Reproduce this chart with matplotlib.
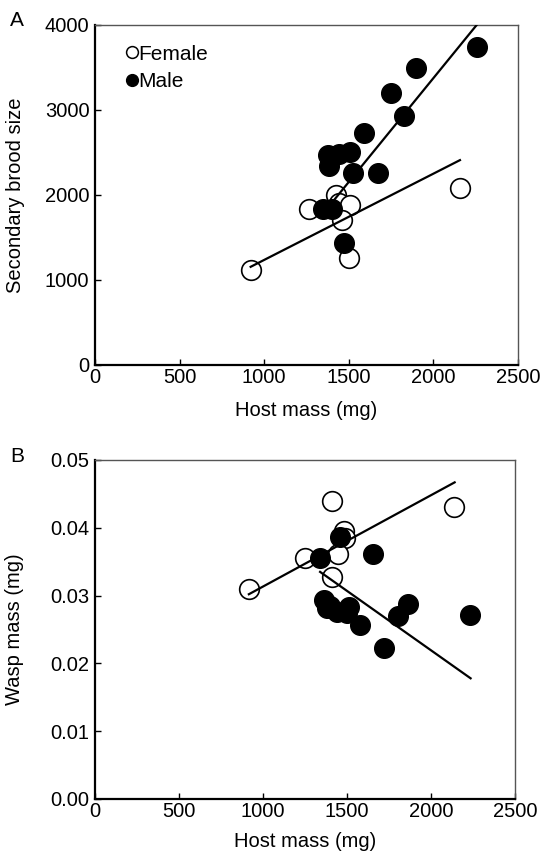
import matplotlib
matplotlib.use("Agg")
import matplotlib.pyplot as plt
from matplotlib.lines import Line2D

plt.rcParams["font.family"] = ["Liberation Sans", "DejaVu Sans"]
plt.rcParams["font.size"] = 14.5

# Panel A: secondary brood size vs host mass
female_host_a = [920, 1265, 1425, 1440, 1510, 1460, 1500, 2155]
female_brood = [1120, 1830, 1995, 1900, 1880, 1710, 1255, 2080]
male_host_a = [2255, 1895, 1750, 1825, 1590, 1380, 1440, 1505, 1385, 1525, 1670, 1350, 1400, 1470]
male_brood = [3735, 3490, 3195, 2930, 2725, 2465, 2485, 2510, 2340, 2260, 2260, 1835, 1835, 1430]
female_fit_a = ([920, 2157], [1155, 2410])
male_fit_a = ([1389, 2260], [1882, 4010])

# Panel B: wasp mass vs host mass
female_host_b = [916, 1251, 1409, 1483, 1490, 1444, 1409, 2140]
female_wasp = [0.0310, 0.0355, 0.0439, 0.0395, 0.0385, 0.0362, 0.0327, 0.0430]
male_host_b = [1340, 1458, 1655, 2232, 1866, 1803, 1720, 1576, 1365, 1379, 1438, 1500, 1510, 1400]
male_wasp = [0.0355, 0.0386, 0.0362, 0.0271, 0.0288, 0.0270, 0.0223, 0.0257,
             0.0293, 0.0281, 0.0276, 0.0274, 0.0283, 0.0285]
female_fit_b = ([916, 2141], [0.0302, 0.0467])
male_fit_b = ([1340, 2236], [0.0335, 0.0178])

x_ticks = [0, 500, 1000, 1500, 2000, 2500]

fig = plt.figure(figsize=(5.44, 8.55), dpi=100)
ax_a = fig.add_axes([0.1746, 0.5731, 0.7776, 0.3977])
ax_b = fig.add_axes([0.1746, 0.0655, 0.7720, 0.3965])


def style_axes(ax):
    for side in ["left", "bottom"]:
        ax.spines[side].set_linewidth(1.6)
        ax.spines[side].set_color("black")
    for side in ["top", "right"]:
        ax.spines[side].set_linewidth(1.0)
        ax.spines[side].set_color("#555555")
    ax.tick_params(direction="in", length=4, width=1)
    ax.tick_params(axis="x", pad=2)
    ax.tick_params(axis="y", pad=4)
    ax.set_xlim(0, 2500)
    ax.set_xticks(x_ticks)
    ax.set_xlabel("Host mass (mg)")


def draw_points(ax, fx, fy, mx, my, ffit, mfit):
    ax.scatter(fx, fy, s=200, facecolor="white", edgecolor="black", linewidth=1.2, zorder=3)
    ax.scatter(mx, my, s=200, facecolor="black", edgecolor="black", linewidth=1.0, zorder=4)
    ax.plot(ffit[0], ffit[1], color="black", lw=1.6, zorder=5)
    ax.plot(mfit[0], mfit[1], color="black", lw=1.6, zorder=5)


draw_points(ax_a, female_host_a, female_brood, male_host_a, male_brood, female_fit_a, male_fit_a)
style_axes(ax_a)
ax_a.set_ylim(0, 4000)
ax_a.set_yticks([0, 1000, 2000, 3000, 4000])
ax_a.set_ylabel("Secondary brood size")
ax_a.yaxis.set_label_coords(-0.165, 0.5)
ax_a.xaxis.set_label_coords(0.5, -0.105)

handles = [
    Line2D([], [], marker="o", ls="none", markersize=8.5, markerfacecolor="white",
           markeredgecolor="black", markeredgewidth=1.1, label="Female"),
    Line2D([], [], marker="o", ls="none", markersize=8.5, markerfacecolor="black",
           markeredgecolor="black", label="Male"),
]
ax_a.legend(handles=handles, loc="upper left", bbox_to_anchor=(0.028, 1.003), frameon=False,
            handlelength=0.4, handletextpad=0.1, borderaxespad=0.6, labelspacing=0.4,
            fontsize=15)

draw_points(ax_b, female_host_b, female_wasp, male_host_b, male_wasp, female_fit_b, male_fit_b)
style_axes(ax_b)
ax_b.set_ylim(0, 0.05)
ax_b.set_yticks([0, 0.01, 0.02, 0.03, 0.04, 0.05])
ax_b.set_yticklabels(["0.00", "0.01", "0.02", "0.03", "0.04", "0.05"])
ax_b.set_ylabel("Wasp mass (mg)")
ax_b.yaxis.set_label_coords(-0.169, 0.5)
ax_b.xaxis.set_label_coords(0.5, -0.098)

fig.text(10 / 544, 1 - 21 / 855, "A", fontsize=15, va="center", ha="left")
fig.text(10 / 544, 1 - 456 / 855, "B", fontsize=15, va="center", ha="left")

fig.savefig("out.png", dpi=100)
